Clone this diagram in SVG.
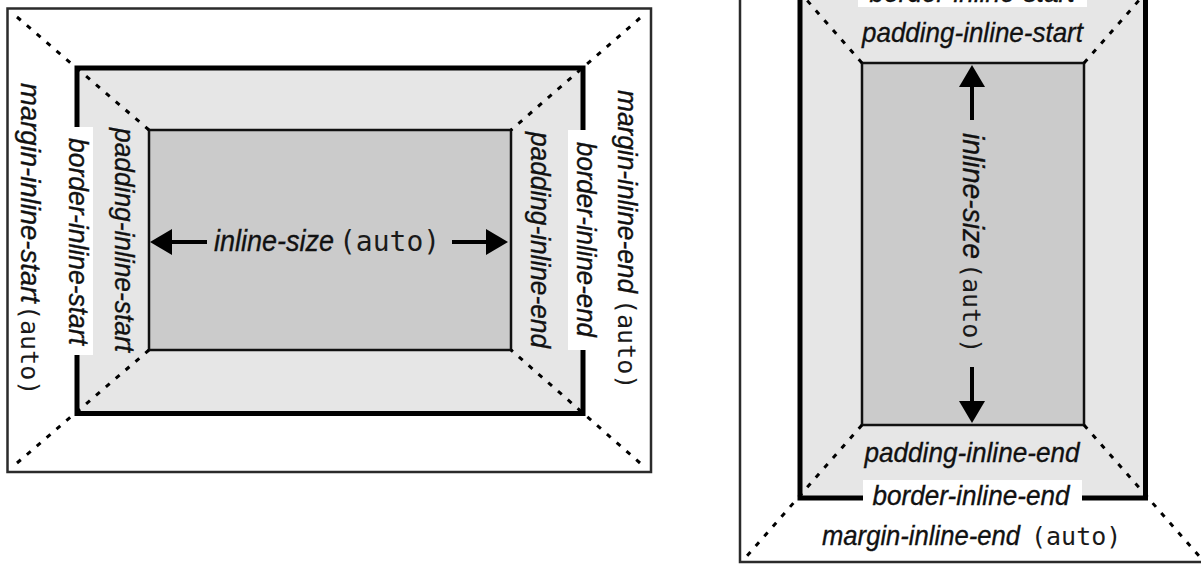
<svg xmlns="http://www.w3.org/2000/svg" width="1201" height="565" viewBox="0 0 1201 565">
<style>
.outer{fill:#fff;stroke:#2b2b2b;stroke-width:2.5}
.border{fill:#e6e6e6;stroke:#000;stroke-width:5}
.content{fill:#cbcbcb;stroke:#111;stroke-width:2.5}
.dot{stroke:#000;stroke-width:3;stroke-dasharray:5 8;fill:none}
.arrow{stroke:#000;stroke-width:4;fill:none;marker-end:url(#ah)}
.lbl{font-family:"Liberation Sans",Arial,sans-serif;font-style:italic;font-size:28px;fill:#111;stroke:#111;stroke-width:0.35}
.big{font-size:30px}
.mono{font-family:"DejaVu Sans Mono","Liberation Mono",monospace;font-size:25px;fill:#1a1a1a}
.monobig{font-size:28px}
.mask{fill:#fff}
</style>
<defs>
<marker id="ah" markerUnits="userSpaceOnUse" markerWidth="22" markerHeight="26" viewBox="0 0 22 26" refX="10" refY="13" orient="auto">
<path d="M0,0 L22,13 L0,26 Z" fill="#000"/>
</marker>
</defs>
<rect x="0" y="0" width="1201" height="565" fill="#fff"/>

<!-- Left diagram -->
<g id="left-margin-box"><rect class="outer" x="7.5" y="8.5" width="643.5" height="463.5"/></g>
<g id="left-border-box"><rect class="border" x="77" y="68" width="506" height="345.5"/></g>
<g id="left-content-box"><rect class="content" x="149" y="130" width="362" height="220"/></g>

<!-- Right diagram -->
<g id="right-margin-box"><rect class="outer" x="740" y="-80" width="470" height="642"/></g>
<g id="right-border-box"><rect class="border" x="800" y="-5" width="345.5" height="503"/></g>
<g id="right-content-box"><rect class="content" x="862" y="63" width="222" height="362"/></g>

<g id="connectors">
<line class="dot" x1="17" y1="17" x2="149" y2="130"/>
<line class="dot" x1="640" y1="18" x2="511" y2="130"/>
<line class="dot" x1="17" y1="463" x2="149" y2="350"/>
<line class="dot" x1="640" y1="463" x2="511" y2="350"/>
<line class="dot" x1="862" y1="63" x2="740" y2="-76"/>
<line class="dot" x1="1084" y1="63" x2="1206" y2="-76"/>
<line class="dot" x1="862" y1="425" x2="746" y2="557"/>
<line class="dot" x1="1084" y1="425" x2="1200" y2="557"/>
<line class="arrow" x1="207" y1="242" x2="162" y2="242"/>
<line class="arrow" x1="452" y1="242" x2="496" y2="242"/>
<line class="arrow" x1="972" y1="120" x2="972" y2="77"/>
<line class="arrow" x1="972" y1="367" x2="972" y2="411"/>
</g>

<!-- Left labels -->
<g id="label-margin-inline-start">
<text class="lbl" transform="translate(21,83) rotate(90)" textLength="220" lengthAdjust="spacingAndGlyphs">margin-inline-start</text>
<text class="mono" transform="translate(21,305) rotate(90)">(auto)</text>
</g>
<g id="label-border-inline-start">
<rect class="mask" x="60" y="127" width="33" height="228"/>
<text class="lbl" transform="translate(69,138) rotate(90)" textLength="207" lengthAdjust="spacingAndGlyphs">border-inline-start</text>
</g>
<g id="label-padding-inline-start">
<text class="lbl" transform="translate(115,128) rotate(90)" textLength="224" lengthAdjust="spacingAndGlyphs">padding-inline-start</text>
</g>
<g id="label-padding-inline-end">
<text class="lbl" transform="translate(531,132) rotate(90)" textLength="216" lengthAdjust="spacingAndGlyphs">padding-inline-end</text>
</g>
<g id="label-border-inline-end">
<rect class="mask" x="568" y="130" width="32" height="220"/>
<text class="lbl" transform="translate(577,142) rotate(90)" textLength="195" lengthAdjust="spacingAndGlyphs">border-inline-end</text>
</g>
<g id="label-margin-inline-end">
<text class="lbl" transform="translate(618,90) rotate(90)" textLength="203" lengthAdjust="spacingAndGlyphs">margin-inline-end</text>
<text class="mono" transform="translate(618,299) rotate(90)">(auto)</text>
</g>
<g id="label-inline-size-left">
<text class="lbl big" x="214" y="251" textLength="120" lengthAdjust="spacingAndGlyphs">inline-size</text>
<text class="mono monobig" x="339" y="251">(auto)</text>
</g>

<!-- Right labels -->
<g id="label-r-border-inline-start">
<rect class="mask" x="858" y="-30" width="229" height="37"/>
<text class="lbl" x="972" y="2" text-anchor="middle" textLength="205" lengthAdjust="spacingAndGlyphs">border-inline-start</text>
</g>
<g id="label-r-padding-inline-start">
<text class="lbl" x="972.5" y="42" text-anchor="middle" textLength="221" lengthAdjust="spacingAndGlyphs">padding-inline-start</text>
</g>
<g id="label-r-inline-size">
<text class="lbl big" transform="translate(963,133) rotate(90)" textLength="126" lengthAdjust="spacingAndGlyphs">inline-size</text>
<text class="mono" transform="translate(963,263) rotate(90)">(auto)</text>
</g>
<g id="label-r-padding-inline-end">
<text class="lbl" x="972" y="462" text-anchor="middle" textLength="215" lengthAdjust="spacingAndGlyphs">padding-inline-end</text>
</g>
<g id="label-r-border-inline-end">
<rect class="mask" x="863" y="480" width="219" height="30"/>
<text class="lbl" x="971" y="505" text-anchor="middle" textLength="197" lengthAdjust="spacingAndGlyphs">border-inline-end</text>
</g>
<g id="label-r-margin-inline-end">
<text class="lbl" x="822" y="545" textLength="198" lengthAdjust="spacingAndGlyphs">margin-inline-end</text>
<text class="mono" x="1031" y="545">(auto)</text>
</g>
</svg>
